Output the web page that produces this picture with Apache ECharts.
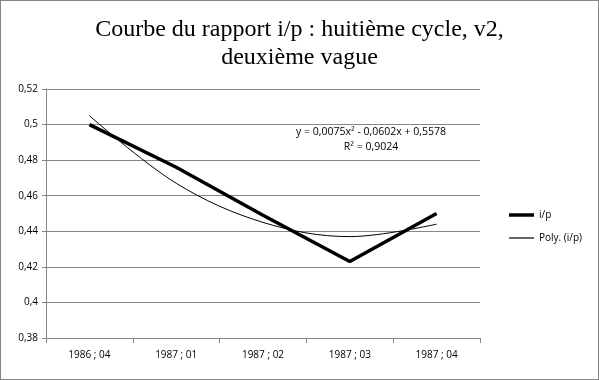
<!DOCTYPE html>
<html><head><meta charset="utf-8">
<script src="https://cdn.jsdelivr.net/npm/echarts@6/dist/echarts.min.js"></script>
<style>html,body{margin:0;padding:0;background:#fff}#c{width:599px;height:380px;box-sizing:border-box;border:1px solid #868686}</style>
</head><body><div id="c"></div>
<script>
const titleText = "Courbe du rapport i/p : huitième cycle, v2,\ndeuxième vague";
const categories = ["1986 ; 04", "1987 ; 01", "1987 ; 02", "1987 ; 03", "1987 ; 04"];
const ipValues = [0.500, 0.476, 0.449, 0.423, 0.450];
const polyValues = [0.505, 0.467, 0.445, 0.437, 0.444];
const yTicks = {min: 0.38, max: 0.52, interval: 0.02};
const eqLine1 = "y = 0,0075x² - 0,0602x + 0,5578";
const eqLine2 = "R² = 0,9024";

const chart = echarts.init(document.getElementById('c'), null, {renderer: 'canvas'});
const labelFont = "'Open Sans', 'Liberation Sans', sans-serif";
const legendText = {fontFamily: labelFont, fontSize: 10, color: '#000'};
chart.setOption({
  animation: false,
  title: {
    text: titleText, left: 'center', top: 10,
    textStyle: {fontFamily: "'Liberation Serif', serif", fontSize: 24, fontWeight: 'normal', color: '#000', lineHeight: 28}
  },
  grid: {left: 45, right: 118, top: 88, bottom: 41, containLabel: false},
  xAxis: {
    type: 'category', data: categories, boundaryGap: true,
    axisLine: {lineStyle: {color: '#868686'}},
    axisTick: {show: true, alignWithLabel: false, lineStyle: {color: '#868686'}, length: 5},
    axisLabel: {color: '#000', fontFamily: labelFont, fontSize: 10, margin: 12}
  },
  yAxis: {
    type: 'value', min: yTicks.min, max: yTicks.max, interval: yTicks.interval,
    axisLine: {show: true, lineStyle: {color: '#868686'}},
    axisTick: {show: true, lineStyle: {color: '#868686'}, length: 4},
    splitLine: {lineStyle: {color: '#868686'}},
    axisLabel: {color: '#000', fontFamily: labelFont, fontSize: 10, margin: 8,
      formatter: v => String(+v.toFixed(2)).replace('.', ',')}
  },
  legend: [
    {left: 503, top: 204, itemWidth: 25, itemHeight: 3.5, itemGap: 0, icon: 'rect',
     textStyle: legendText, data: [{name: 'i/p'}]},
    {left: 503, top: 227, itemWidth: 25, itemHeight: 1.2, itemGap: 0, icon: 'rect',
     textStyle: legendText, data: [{name: 'Poly. (i/p)'}]}
  ],
  series: [
    {name: 'i/p', type: 'line', data: ipValues, symbol: 'none',
     lineStyle: {color: '#000', width: 3.5}, itemStyle: {color: '#000'}, z: 3},
    {name: 'Poly. (i/p)', type: 'line', data: polyValues, symbol: 'none', smooth: 0.35,
     lineStyle: {color: '#000', width: 1}, itemStyle: {color: '#000'}, z: 2}
  ],
  graphic: [
    {type: 'text', x: 370, y: 124, style: {text: eqLine1 + '\n' + eqLine2, align: 'center',
      font: "10.5px 'Open Sans', 'Liberation Sans', sans-serif", fill: '#000', lineHeight: 15}}
  ]
});
</script></body></html>
